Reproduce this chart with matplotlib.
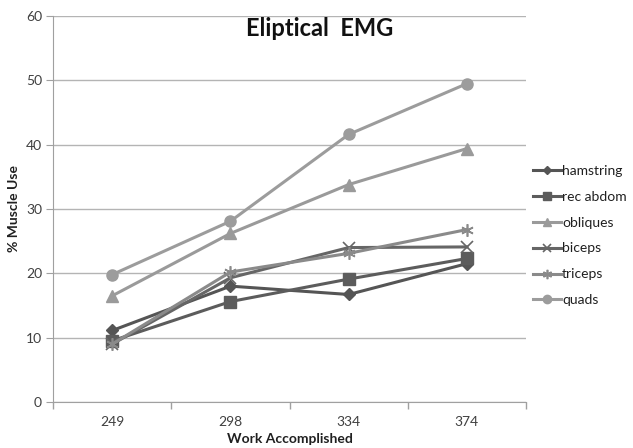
import matplotlib
matplotlib.use('Agg')
import matplotlib.pyplot as plt
import numpy as np

plt.rcParams['font.family'] = ['Lato', 'DejaVu Sans']

work = ['249', '298', '334', '374']
hamstring = [11.1, 18.0, 16.7, 21.5]
rec_abdom = [9.5, 15.6, 19.1, 22.3]
obliques = [16.5, 26.2, 33.8, 39.4]
biceps = [9.0, 19.3, 24.0, 24.1]
triceps = [9.0, 20.2, 23.1, 26.8]
quads = [19.8, 28.1, 41.6, 49.5]

series = [
    ('hamstring', hamstring, '#555555', 'D', 6),
    ('rec abdom', rec_abdom, '#5c5c5c', 's', 8),
    ('obliques', obliques, '#9a9a9a', '^', 8),
    ('biceps', biceps, '#666666', 'x', 8),
    ('triceps', triceps, '#8a8a8a', (6, 2, 0), 9),
    ('quads', quads, '#9c9c9c', 'o', 8),
]

fig = plt.figure(figsize=(6.33, 4.48), dpi=100)
ax = fig.add_axes([0.084, 0.103, 0.747, 0.861])

x = np.arange(len(work))
handles = []
for name, vals, col, mk, ms in series:
    h, = ax.plot(x, vals, color=col, marker=mk, markersize=ms, linewidth=2.2,
                 markeredgewidth=1.2 if mk in ('x', (6, 2, 0)) else 1.0,
                 markeredgecolor=col, markerfacecolor=col, label=name, zorder=3)
    handles.append(h)

ax.set_xlim(-0.5, 3.5)
ax.set_ylim(0, 60)
ax.set_yticks(range(0, 61, 10))
ax.set_xticks(x)
ax.set_xticklabels(work)
ax.set_xticks(np.arange(-0.5, 3.6, 1.0), minor=True)
ax.tick_params(axis='x', which='major', length=0, pad=10, labelsize=10, colors='#404040')
ax.tick_params(axis='x', which='minor', length=5, color='#a0a0a0', width=1)
ax.tick_params(axis='y', length=5, color='#a0a0a0', labelsize=10, colors='#404040', pad=3)
for t in ax.get_yticklines():
    t.set_color('#a0a0a0')

ax.grid(axis='y', color='#b4b4b4', linewidth=1)
ax.set_axisbelow(True)
for s in ('top', 'right'):
    ax.spines[s].set_visible(False)
ax.spines['left'].set_color('#a0a0a0')
ax.spines['bottom'].set_color('#a0a0a0')

ax.set_xlabel('Work Accomplished', fontsize=10, fontweight='bold', color='#202020', labelpad=4)
ax.set_ylabel('% Muscle Use', fontsize=10, fontweight='bold', color='#202020', labelpad=4)

fig.text(320 / 633, 1 - 28 / 448, 'Eliptical  EMG', ha='center', va='center',
         fontsize=17, fontweight='bold', color='#111111')

fig.legend(handles=handles, loc='upper left', bbox_to_anchor=(0.822, 0.66),
           frameon=False, fontsize=10, handlelength=2.0, handletextpad=0.1,
           labelspacing=1.0, markerscale=0.75, labelcolor='#202020')

fig.savefig('out.png', dpi=100)
